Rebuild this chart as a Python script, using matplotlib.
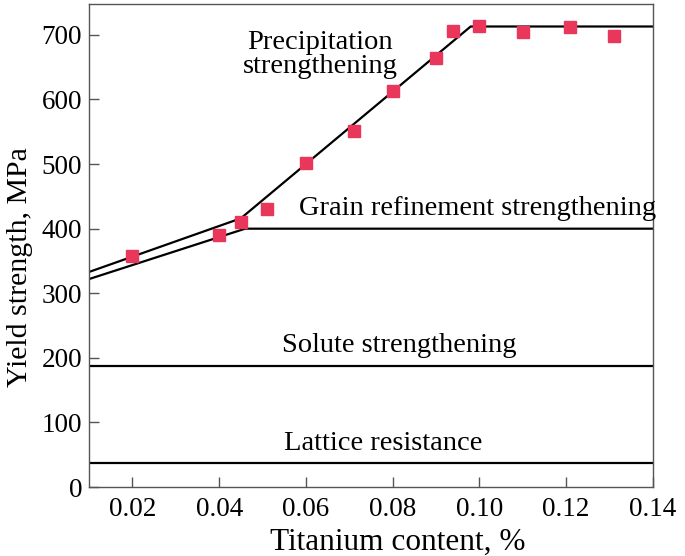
import matplotlib
matplotlib.use("Agg")
import matplotlib.pyplot as plt

plt.rcParams['font.family'] = ['Liberation Serif', 'DejaVu Serif']

# measured points (Ti content %, yield strength MPa)
ti = [0.020, 0.040, 0.045, 0.051, 0.060, 0.071, 0.080, 0.090, 0.094, 0.100, 0.110, 0.121, 0.131]
ys = [357, 390, 411, 430, 502, 551, 613, 665, 706, 714, 704, 712, 699]

# model curves
upper_x = [0.010, 0.045, 0.098, 0.140]
upper_y = [333, 416, 713, 713]
grain_x = [0.010, 0.046, 0.140]
grain_y = [322, 400, 400]
solute_y = 188
lattice_y = 37

xticks = [0.02, 0.04, 0.06, 0.08, 0.10, 0.12, 0.14]
yticks = [0, 100, 200, 300, 400, 500, 600, 700]


def main():
    fig = plt.figure(figsize=(6.85, 5.56), dpi=100)
    ax = fig.add_axes([0.130, 0.124, 0.823, 0.869])

    lw = 1.6
    ax.plot(upper_x, upper_y, color='black', lw=lw)
    ax.plot(grain_x, grain_y, color='black', lw=lw)
    ax.axhline(solute_y, color='black', lw=lw)
    ax.axhline(lattice_y, color='black', lw=lw)
    ax.plot(ti, ys, 's', color='#e8375a', markersize=8, zorder=3)

    fs = 20.5
    ax.text(0.0633, 669, "Precipitation\nstrengthening", ha='center', va='center',
            fontsize=fs, linespacing=0.95)
    ax.text(0.0996, 432, "Grain refinement strengthening", ha='center', va='center', fontsize=fs)
    ax.text(0.0815, 219, "Solute strengthening", ha='center', va='center', fontsize=fs)
    ax.text(0.0778, 67, "Lattice resistance", ha='center', va='center', fontsize=fs)

    ax.set_xlim(0.01, 0.14)
    ax.set_ylim(0, 748)
    ax.set_xticks(xticks)
    ax.set_xticklabels(["%.2f" % v for v in xticks])
    ax.set_yticks(yticks)
    ax.tick_params(direction='in', length=7, width=1, labelsize=19.5, color='#555555')
    ax.tick_params(axis='x', pad=7)
    ax.tick_params(axis='y', pad=5)
    for s in ax.spines.values():
        s.set_color('#555555')
        s.set_linewidth(1)

    ax.set_xlabel("Titanium content, %", fontsize=22.5)
    ax.set_ylabel("Yield strength, MPa", fontsize=21.5)
    ax.xaxis.set_label_coords(0.548, -0.085)
    ax.yaxis.set_label_coords(-0.099, 0.455)

    fig.savefig("out.png", dpi=100)


if __name__ == '__main__':
    main()
